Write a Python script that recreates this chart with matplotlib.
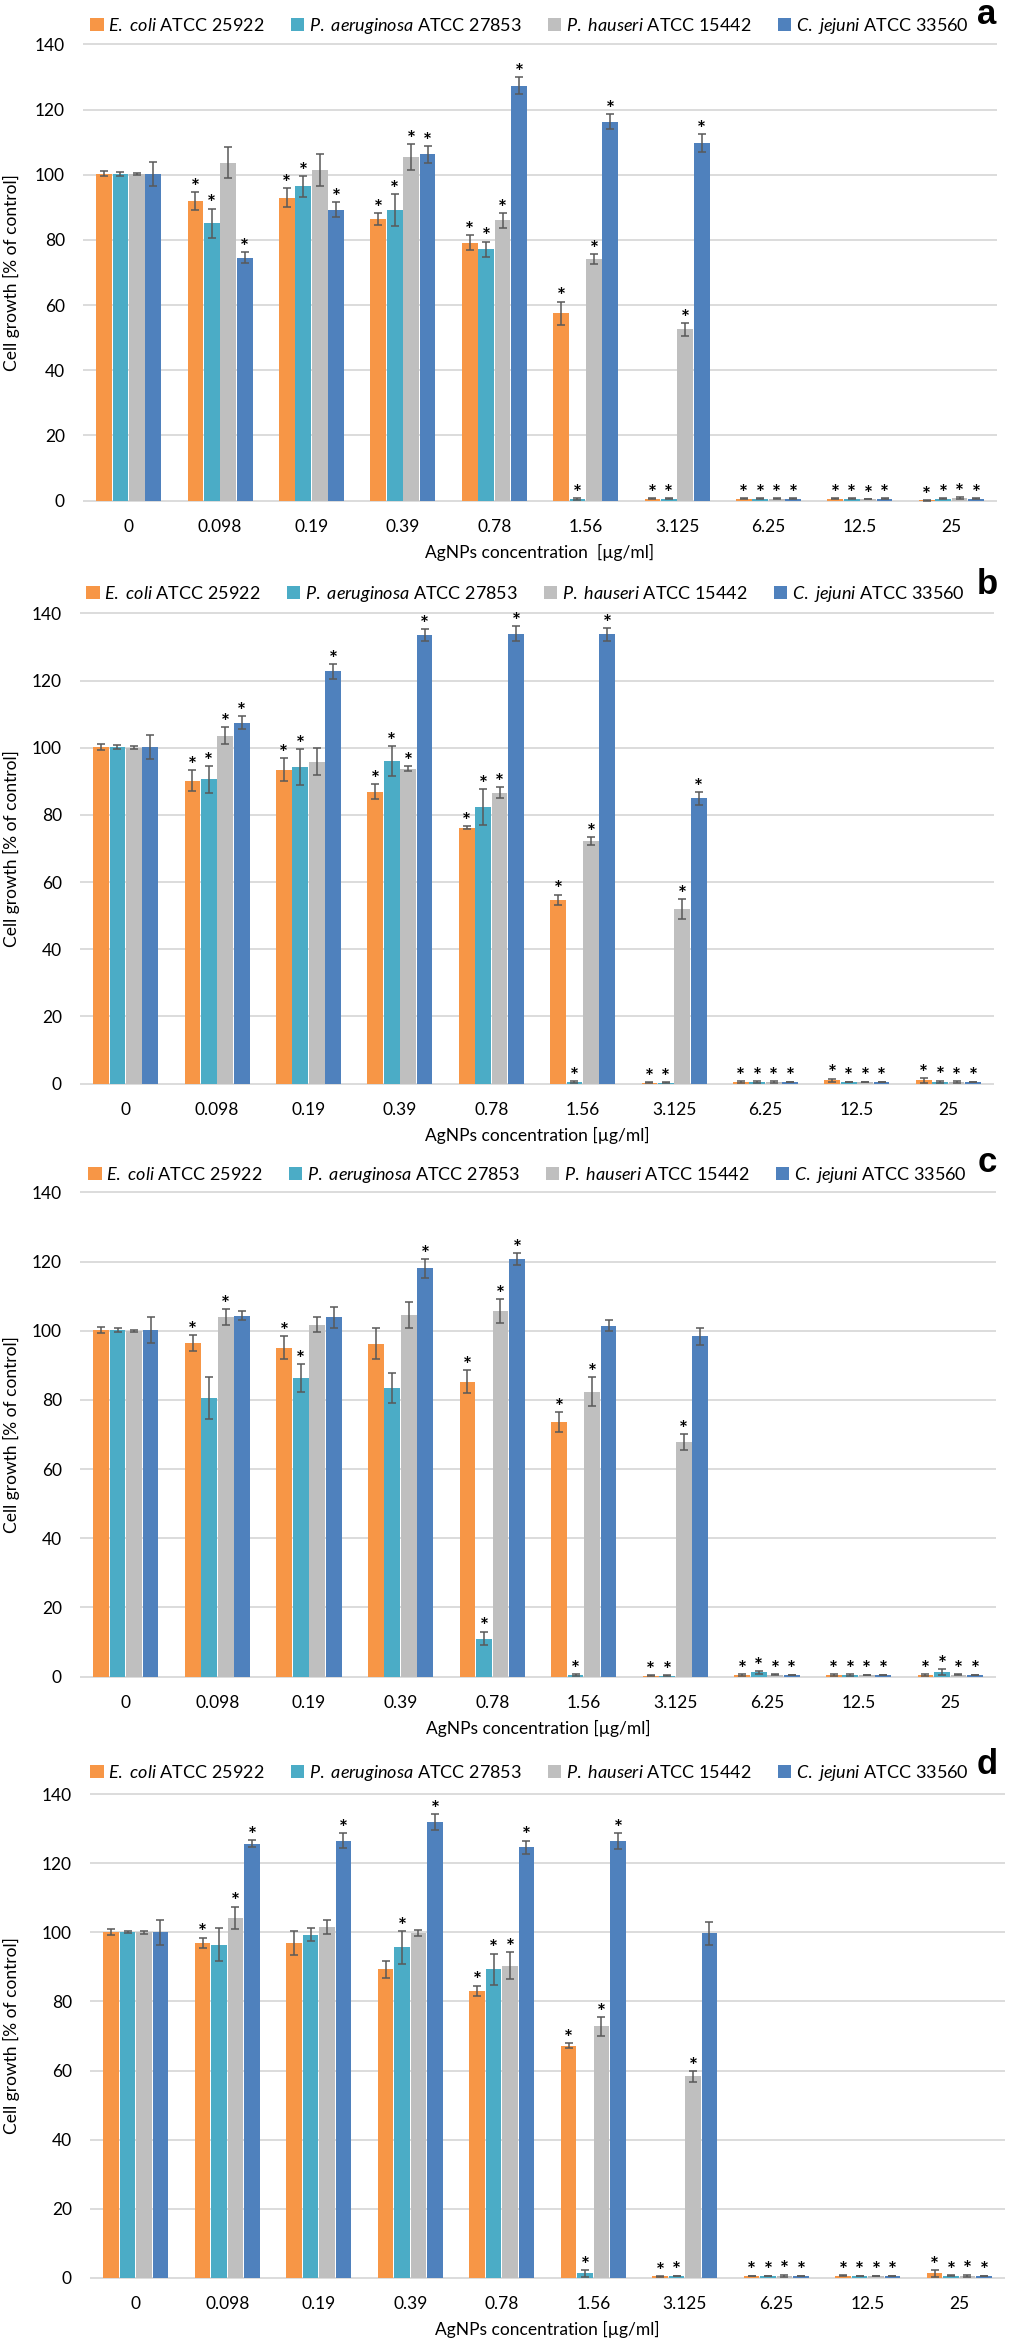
import matplotlib
matplotlib.use("Agg")
import matplotlib.pyplot as plt
from matplotlib.patches import Patch
import numpy as np

plt.rcParams["font.family"] = ["Lato", "DejaVu Sans"]
plt.rcParams["mathtext.fontset"] = "custom"
plt.rcParams["mathtext.it"] = "Lato:italic"
plt.rcParams["mathtext.rm"] = "Lato"

# ── Data ─────────────────────────────────────────────────────────────────────
concentrations = ["0", "0.098", "0.19", "0.39", "0.78", "1.56", "3.125", "6.25", "12.5", "25"]
strains = [r"$\mathit{E.\ coli}$ ATCC 25922",
           r"$\mathit{P.\ aeruginosa}$ ATCC 27853",
           r"$\mathit{P.\ hauseri}$ ATCC 15442",
           r"$\mathit{C.\ jejuni}$ ATCC 33560"]
colors = ["#F79646", "#4BACC6", "#BFBFBF", "#4F81BD"]

# panel a  (rows: E. coli, P. aeruginosa, P. hauseri, C. jejuni)
a_vals = [[100.3, 91.9, 93.0, 86.5, 79.2, 57.5, 0.6, 0.6, 0.6, 0.1],
          [100.2, 85.1, 96.4, 89.2, 77.2, 0.5, 0.6, 0.6, 0.6, 0.6],
          [100.1, 103.7, 101.4, 105.4, 86.0, 74.1, 52.6, 0.6, 0.5, 0.7],
          [100.3, 74.6, 89.3, 106.2, 127.3, 116.3, 109.8, 0.6, 0.6, 0.6]]
a_errs = [[0.8, 2.8, 3.0, 1.8, 2.2, 3.6, 0.1, 0.1, 0.1, 0.1],
          [0.5, 4.5, 3.1, 4.9, 2.3, 0.2, 0.1, 0.1, 0.1, 0.1],
          [0.3, 4.7, 4.9, 4.1, 2.3, 1.6, 2.0, 0.2, 0.1, 0.3],
          [3.7, 1.7, 2.3, 2.6, 2.6, 2.3, 2.7, 0.1, 0.1, 0.1]]
a_stars = ["0111111111", "0111111111", "0001111111", "0111111111"]

# panel b
b_vals = [[100.2, 90.2, 93.4, 86.9, 76.2, 54.8, 0.3, 0.5, 1.0, 1.0],
          [100.2, 90.6, 94.2, 96.1, 82.3, 0.5, 0.3, 0.5, 0.5, 0.6],
          [100.0, 103.6, 95.8, 93.8, 86.6, 72.3, 52.0, 0.5, 0.5, 0.5],
          [100.2, 107.5, 122.7, 133.5, 134.0, 133.8, 84.9, 0.5, 0.5, 0.5]]
b_errs = [[0.8, 3.1, 3.4, 2.3, 0.5, 1.5, 0.1, 0.2, 0.5, 0.7],
          [0.6, 4.0, 5.4, 4.5, 5.3, 0.2, 0.1, 0.2, 0.1, 0.3],
          [0.4, 2.5, 4.0, 0.8, 1.6, 1.2, 3.0, 0.2, 0.1, 0.2],
          [3.7, 2.0, 2.2, 1.7, 2.1, 1.9, 2.0, 0.1, 0.1, 0.1]]
b_stars = ["0111111111", "0111111111", "0101111111", "0111111111"]

# panel c
c_vals = [[100.2, 96.5, 95.1, 96.3, 85.3, 73.6, 0.3, 0.5, 0.5, 0.5],
          [100.2, 80.6, 86.3, 83.5, 11.0, 0.5, 0.3, 1.2, 0.5, 1.3],
          [100.0, 103.9, 101.7, 104.6, 105.7, 82.4, 67.8, 0.6, 0.5, 0.6],
          [100.2, 104.4, 103.9, 118.0, 120.8, 101.5, 98.4, 0.5, 0.5, 0.5]]
c_errs = [[0.8, 2.3, 3.4, 4.6, 3.3, 2.8, 0.1, 0.2, 0.2, 0.3],
          [0.5, 6.0, 4.0, 4.3, 2.0, 0.2, 0.1, 0.4, 0.2, 0.8],
          [0.3, 2.3, 2.2, 3.8, 3.5, 4.3, 2.4, 0.2, 0.1, 0.2],
          [3.7, 1.2, 3.0, 2.7, 1.7, 1.6, 2.4, 0.1, 0.1, 0.1]]
c_stars = ["0110111111", "0010111111", "0100111111", "0001100111"]

# panel d
d_vals = [[100.2, 97.0, 97.0, 89.3, 83.1, 67.2, 0.4, 0.5, 0.6, 1.2],
          [100.1, 96.4, 99.3, 95.7, 89.3, 1.2, 0.5, 0.5, 0.5, 0.6],
          [100.0, 104.2, 101.6, 99.8, 90.4, 72.8, 58.3, 0.6, 0.5, 0.6],
          [100.1, 125.7, 126.6, 132.0, 124.7, 126.5, 99.8, 0.5, 0.5, 0.5]]
d_errs = [[0.8, 1.5, 3.4, 2.4, 1.5, 0.7, 0.1, 0.1, 0.2, 1.0],
          [0.4, 4.8, 1.9, 4.8, 4.6, 1.0, 0.1, 0.1, 0.1, 0.1],
          [0.4, 3.3, 2.0, 0.8, 3.8, 2.8, 1.6, 0.3, 0.1, 0.3],
          [3.6, 1.0, 2.1, 2.3, 1.9, 2.2, 3.3, 0.1, 0.1, 0.1]]
d_stars = ["0100111111", "0001111111", "0100111111", "0111110111"]

# ── Layout (pixels: left, top, right, bottom; legend y, legend x) ────────────
W, H = 1012, 2348
panels = [
    ("a", a_vals, a_errs, a_stars, (83, 43, 997, 502), 26, 90, "AgNPs concentration  [µg/ml]"),
    ("b", b_vals, b_errs, b_stars, (80, 612, 994, 1085), 594, 86, "AgNPs concentration [µg/ml]"),
    ("c", c_vals, c_errs, c_stars, (80, 1191, 996, 1678), 1175, 88, "AgNPs concentration [µg/ml]"),
    ("d", d_vals, d_errs, d_stars, (90, 1793, 1005, 2279), 1773, 90, "AgNPs concentration [µg/ml]"),
]


def draw_panel(fig, letter, vals, errs, stars, box, leg_y, leg_x, xlabel):
    l, t, r, b = box
    ax = fig.add_axes([l / W, 1 - b / H, (r - l) / W, (b - t) / H])
    x = np.arange(len(concentrations))
    step = 0.18
    for i in range(4):
        xs = x + (i - 1.5) * step
        ax.bar(xs, vals[i], step * 0.96, color=colors[i], zorder=2)
        ax.errorbar(xs, vals[i], yerr=errs[i], fmt="none", ecolor="#595959",
                    elinewidth=1.1, capsize=3, capthick=1.1, zorder=3)
        for xi, vi, ei, si in zip(xs, vals[i], errs[i], stars[i]):
            if si == "1":
                ax.annotate("*", (xi, vi + ei), xytext=(0, 3), textcoords="offset points",
                            ha="center", va="center", fontsize=15, fontweight="bold", zorder=4)

    ax.set_xlim(-0.5, 9.5)
    ax.set_ylim(-0.4, 140.4)
    ax.set_yticks(range(0, 141, 20))
    ax.set_xticks(x)
    ax.set_xticklabels(concentrations)
    ax.yaxis.grid(True, color="#D9D9D9", linewidth=1.3)
    ax.set_axisbelow(True)
    for sp in ax.spines.values():
        sp.set_visible(False)
    ax.tick_params(length=0, labelsize=12.5, colors="black")
    ax.tick_params(axis="y", pad=13)
    ax.tick_params(axis="x", pad=12)
    ax.set_xlabel(xlabel, fontsize=12.5, labelpad=7)
    ax.set_ylabel("Cell growth [% of control]", fontsize=12.5)
    ax.yaxis.set_label_coords((20 - l) / (r - l), 0.5)

    handles = [Patch(facecolor=c) for c in colors]
    fig.legend(handles, strains, loc="center left",
               bbox_to_anchor=(leg_x / W, 1 - leg_y / H), ncol=4, frameon=False,
               fontsize=13, handlelength=0.75, handleheight=0.75, handletextpad=0.25,
               columnspacing=1.45, borderpad=0, borderaxespad=0)
    fig.text(987 / W, 1 - (t - 28) / H, letter, fontsize=25, fontweight="bold",
             family="Liberation Sans", ha="center", va="center")


fig = plt.figure(figsize=(W / 100, H / 100), dpi=100)
for letter, vals, errs, stars, box, leg_y, leg_x, xlabel in panels:
    draw_panel(fig, letter, vals, errs, stars, box, leg_y, leg_x, xlabel)
fig.savefig("out.png", dpi=100)
